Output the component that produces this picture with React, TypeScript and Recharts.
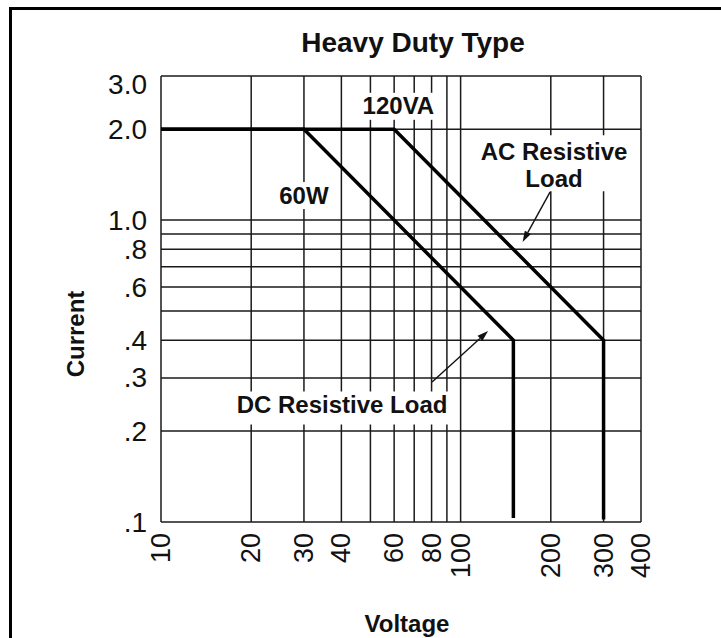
import React from 'react';
import { LineChart, Line, XAxis, YAxis, CartesianGrid, ReferenceDot, ReferenceLine } from 'recharts';

// grid positions on both log axes
const voltageTicks = [10, 20, 30, 40, 50, 60, 70, 80, 90, 100, 200, 300, 400];
const voltageLabels = [10, 20, 30, 40, 60, 80, 100, 200, 300, 400];
const currentTicks = [0.1, 0.2, 0.3, 0.4, 0.5, 0.6, 0.7, 0.8, 0.9, 1, 2, 3];
const currentLabels = [0.1, 0.2, 0.3, 0.4, 0.6, 0.8, 1, 2, 3];

// load curves (V, A)
const dcLoad = [
  { v: 10, i: 2 },
  { v: 30, i: 2 },
  { v: 150, i: 0.4 },
  { v: 150, i: 0.103 },
];
const acLoad = [
  { v: 10, i: 2 },
  { v: 60, i: 2 },
  { v: 300, i: 0.4 },
  { v: 300, i: 0.102 },
];

// annotation anchors in data units
const notes = [
  { text: '120VA', v: 62, i: 2.39, box: [-40, -13, 80, 27] },
  { text: '60W', v: 30, i: 1.21, box: [-30, -13, 60, 27] },
  { text: 'AC Resistive', v: 205, i: 1.69, box: [-80, -16, 160, 56] },
  { text: 'Load', v: 205, i: 1.37, box: [0, 0, 0, 0] },
  { text: 'DC Resistive Load', v: 40.2, i: 0.245, box: [-112, -13, 224, 33] },
];
const arrows = [
  { from: { x: 199, y: 1.24 }, to: { x: 161, y: 0.846 } },
  { from: { x: 80.3, y: 0.291 }, to: { x: 123.5, y: 0.429 } },
];

const FONT = '"Liberation Sans", Arial, Helvetica, sans-serif';

const VoltTick = ({ x, y, payload }: any) => {
  if (!voltageLabels.includes(payload.value)) return <g />;
  return (
    <text
      x={x}
      y={y}
      transform={`rotate(-90 ${x} ${y})`}
      textAnchor="end"
      dominantBaseline="central"
      fontSize={27}
      fontFamily={FONT}
      fill="#111"
    >
      {payload.value}
    </text>
  );
};

const CurrentTick = ({ x, y, payload }: any) => {
  const v = payload.value;
  if (!currentLabels.includes(v)) return <g />;
  const label = v >= 1 ? v.toFixed(1) : '.' + Math.round(v * 10);
  // top label sits a bit under its line in the original
  const shift = v === 3 ? 8 : 0;
  return (
    <text x={x} y={y + shift} textAnchor="end" dominantBaseline="central" fontSize={28} fontFamily={FONT} fill="#111">
      {label}
    </text>
  );
};

const noteShape = (note: any) => (props: any) => {
  const { cx, cy } = props;
  const [bx, by, bw, bh] = note.box;
  return (
    <g>
      {bw > 0 && <rect x={cx + bx} y={cy + by} width={bw} height={bh} fill="#fff" />}
      <text x={cx} y={cy} textAnchor="middle" dominantBaseline="central" fontSize={24} fontWeight="bold" fontFamily={FONT} fill="#111">
        {note.text}
      </text>
    </g>
  );
};

const Arrow = (props: any) => {
  const { x1, y1, x2, y2 } = props;
  const ang = Math.atan2(y2 - y1, x2 - x1);
  const len = 11;
  const half = 3.5;
  const bx = x2 - len * Math.cos(ang);
  const by = y2 - len * Math.sin(ang);
  const px = -Math.sin(ang) * half;
  const py = Math.cos(ang) * half;
  return (
    <g>
      <line x1={x1} y1={y1} x2={bx} y2={by} stroke="#111" strokeWidth={1.4} />
      <polygon points={`${x2},${y2} ${bx + px},${by + py} ${bx - px},${by - py}`} fill="#111" />
    </g>
  );
};

export default function App() {
  return (
    <div style={{ position: 'absolute', left: 0, top: 0, width: 721, height: 638, background: '#fff' }}>
      <LineChart width={721} height={638} margin={{ top: 76, right: 80, bottom: 56, left: 101 }}>
        <CartesianGrid stroke="#1a1a1a" strokeWidth={1.5} />
        <XAxis
          dataKey="v"
          type="number"
          scale="log"
          domain={[10, 400]}
          ticks={voltageTicks}
          interval={0}
          allowDataOverflow
          axisLine={false}
          tickLine={false}
          tickSize={0}
          tickMargin={11}
          height={60}
          tick={<VoltTick />}
        />
        <YAxis
          dataKey="i"
          type="number"
          scale="log"
          domain={[0.1, 3]}
          ticks={currentTicks}
          interval={0}
          allowDataOverflow
          axisLine={false}
          tickLine={false}
          tickSize={0}
          tickMargin={14}
          width={60}
          tick={<CurrentTick />}
        />
        {notes.map((n) => (
          <ReferenceDot key={n.text} x={n.v} y={n.i} r={1} shape={noteShape(n)} ifOverflow="visible" />
        ))}
        <Line data={dcLoad} dataKey="i" stroke="#000" strokeWidth={3.5} dot={false} isAnimationActive={false} />
        <Line data={acLoad} dataKey="i" stroke="#000" strokeWidth={3.5} dot={false} isAnimationActive={false} />
        {arrows.map((a, k) => (
          <ReferenceLine key={k} segment={[a.from, a.to]} shape={Arrow} ifOverflow="visible" />
        ))}
      </LineChart>
      <svg width={721} height={638} style={{ position: 'absolute', left: 0, top: 0, pointerEvents: 'none' }}>
        <rect x={9} y={7} width={712} height={3} fill="#000" />
        <rect x={9} y={7} width={3} height={631} fill="#000" />
        <text x={413} y={52} textAnchor="middle" fontSize={28} fontWeight="bold" fontFamily={FONT} fill="#111">
          Heavy Duty Type
        </text>
        <text
          x={75}
          y={334}
          transform="rotate(-90 75 334)"
          textAnchor="middle"
          dominantBaseline="central"
          fontSize={24}
          fontWeight="bold"
          fontFamily={FONT}
          fill="#111"
        >
          Current
        </text>
        <text x={407} y={632} textAnchor="middle" fontSize={24} fontWeight="bold" fontFamily={FONT} fill="#111">
          Voltage
        </text>
      </svg>
    </div>
  );
}
